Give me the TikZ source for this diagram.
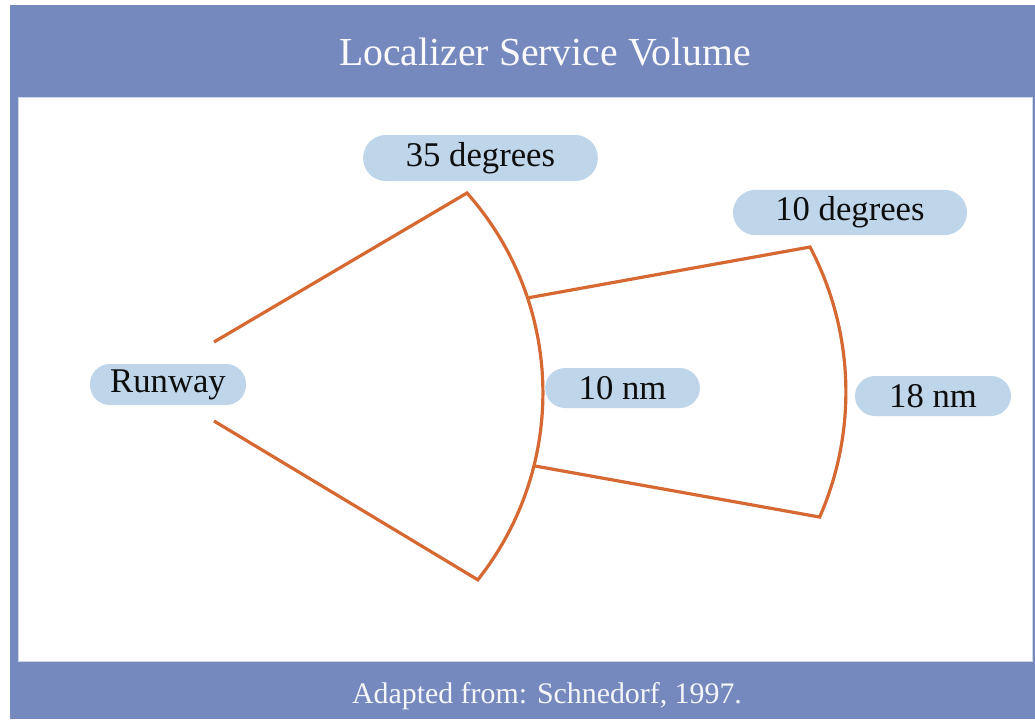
\documentclass[tikz,border=0pt]{standalone}
\usepackage{fontspec}
\setmainfont{Liberation Serif}
\definecolor{framebl}{RGB}{118,137,190}
\definecolor{pillbl}{RGB}{190,213,234}
\definecolor{fanor}{RGB}{214,104,50}
\tikzset{
  pill/.style={fill=pillbl, rounded corners=15pt, inner sep=0pt, text=black!95,
    font=\fontsize{26}{31}\selectfont},
  fanline/.style={draw=fanor, line width=2.4pt, line join=miter},
}

\begin{document}
\begin{tikzpicture}[x=0.75pt,y=0.75pt,yscale=-1,xscale=1]
\useasboundingbox (0,0) rectangle (1035,719);

%Shape: Frame
\fill[white] (0,0) rectangle (1035,719);
\fill[framebl] (10,5) rectangle (1035,719);
\draw[fill=white, draw=framebl!35, line width=0.6pt] (18,97) rectangle (1032,661);

%Coordinates of the fans
\coordinate (rwyU) at (214,342);
\coordinate (rwyL) at (214,421);
\coordinate (apexU) at (467,193);
\coordinate (joinU) at (527,298);
\coordinate (joinL) at (535,466);
\coordinate (tipU) at (810,247);

%Shape: 35 degrees fan
\draw[fanline] (rwyU) -- (apexU) arc[start angle=-41.6, end angle=38.4, radius=225.75pt] -- (rwyL);
%Shape: 10 degrees fan
\draw[fanline] (joinU) -- (tipU) arc[start angle=-27.8, end angle=23.7, radius=233.25pt] -- (joinL);

% Text Node
\node[font=\fontsize{29.8}{35}\selectfont, text=white!96!framebl, anchor=base] (title) at (545,65) {Localizer Service Volume};
% Text Node
\node[font=\fontsize{22.4}{26}\selectfont, text=white!92!framebl, anchor=base] (source) at (547,703) {Adapted from: Schnedorf, 1997.};
% Text Node
\node[pill, minimum width=117pt, minimum height=30.75pt] (runway) at (168,384.5) {Runway};
% Text Node
\node[pill, minimum width=176pt, minimum height=34.5pt, rounded corners=17pt] (wide) at (480.5,158) {35 degrees};
% Text Node
\node[pill, minimum width=175.5pt, minimum height=34pt, rounded corners=17pt] (narrow) at (850,212.5) {10 degrees};
% Text Node
\node[pill, minimum width=116pt, minimum height=30pt] (near) at (622.5,388) {10 nm};
% Text Node
\node[pill, minimum width=117pt, minimum height=30pt] (far) at (933,396) {18 nm};

\end{tikzpicture}
\end{document}
